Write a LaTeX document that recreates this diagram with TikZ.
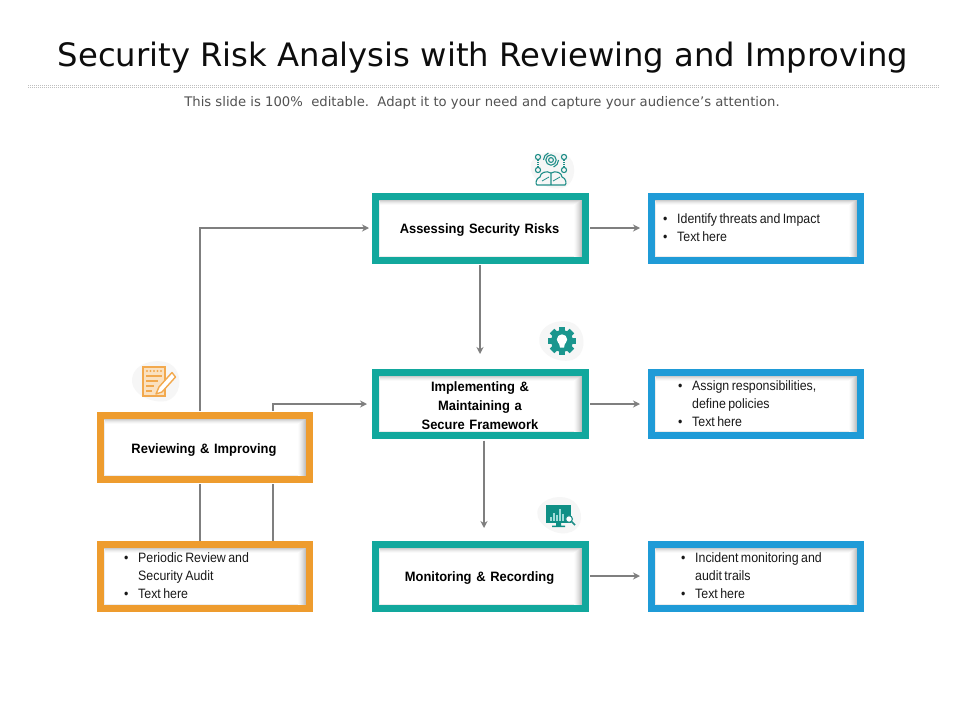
\documentclass[tikz,border=0pt]{standalone}
\usepackage{fontspec}
\setmainfont{Liberation Sans}
\newfontfamily\headfont{DejaVu Sans}
\newfontfamily\bodyfont[FakeStretch=0.91,WordSpace=0.7]{Liberation Sans}
\newfontfamily\labelfont[FakeStretch=0.95,WordSpace=1.3,BoldFont={Liberation Sans Bold}]{Liberation Sans}
\usetikzlibrary{arrows.meta,calc}
\definecolor{teal1}{HTML}{12A89D}
\definecolor{blue1}{HTML}{1F9BD7}
\definecolor{orange1}{HTML}{EE9C2E}
\definecolor{conn}{HTML}{7F7F7F}
\definecolor{icont}{HTML}{1F8E88}
\definecolor{icono}{HTML}{F2A94E}
\definecolor{blob}{HTML}{F6F6F6}
\newcommand{\innerglow}[1]{%
  % top and right bands, fading into the white face
  \foreach \k/\g in {0/20,1/14,2/9,3/5,4/2}{
    \fill[black!\g] ($(#1.north west)+(7,7+\k)$) rectangle ($(#1.north east)+(-7,8+\k)$);
  }
  \foreach \k/\g in {0/24,1/20,2/16,3/12,4/9,5/6,6/3,7/1}{
    \fill[black!\g] ($(#1.north east)+(-8-\k,7+\k*0.6)$) rectangle ($(#1.south east)+(-7-\k,-7)$);
  }
  \fill[black!7] ($(#1.north west)+(7,8)$) rectangle ($(#1.south west)+(8,-7)$);
  \fill[black!7] ($(#1.south west)+(7,-8)$) rectangle ($(#1.south east)+(-15,-7)$);
}
\newcommand{\bl}[1]{\makebox[14pt][l]{\textbullet}#1}
\newcommand{\ct}[1]{\hspace*{14pt}#1}
\tikzset{
  x=1pt,y=-1pt,
  box/.style={draw=#1,line width=7pt,fill=white,minimum width=209pt,minimum height=64pt,inner sep=0pt},
  title/.style={font=\headfont\fontsize{32.25}{36}\selectfont,text=black!95},
  sub/.style={font=\headfont\fontsize{13.2}{15}\selectfont,text=black!68},
  lab/.style={font=\labelfont\bfseries\fontsize{13.6}{19}\selectfont,align=center,text=black},
  bod/.style={font=\bodyfont\fontsize{13.6}{18}\selectfont,align=left,anchor=west,inner sep=0pt,text=black!90},
  link/.style={draw=conn,line width=1.7pt},
  arr/.style={link,-{Stealth[length=7pt,width=7pt]}},
  ticon/.style={draw=icont,line width=1.1pt,fill=none},
}
\begin{document}
\begin{tikzpicture}
\useasboundingbox (0,0) rectangle (960,720);
\fill[white] (0,0) rectangle (960,720);
\node[title] (ttl) at (483,57.5) {Security Risk Analysis with Reviewing and Improving};
\coordinate (ruleL) at (28,85.5); \coordinate (ruleR) at (939,85.5);
\draw[black!25,line width=.9pt,dash pattern=on 1pt off 1pt] (ruleL) -- (ruleR);
\draw[black!25,line width=.9pt,dash pattern=on 1pt off 1pt] ($(ruleL)+(0,1.5)$) -- ($(ruleR)+(0,1.5)$);
\node[sub] (subt) at (482,102.5) {This slide is 100\%\ \ editable.\ \ Adapt it to your need and capture your audience’s attention.};

% boxes
\node[box=teal1,minimum width=210pt] (assess) at (480.5,228.5) {};
\node[box=teal1,minimum width=210pt,minimum height=63pt] (impl) at (480.5,404) {};
\node[box=teal1,minimum width=210pt] (mon) at (480.5,576.5) {};
\node[box=blue1] (b1) at (756,228.5) {};
\node[box=blue1,minimum height=63pt] (b2) at (756,404) {};
\node[box=blue1] (b3) at (756,576.5) {};
\node[box=orange1] (rev) at (205,447.5) {};
\node[box=orange1] (per) at (205,576.5) {};
\foreach \bx in {assess,impl,mon,b1,b2,b3,rev,per} {\innerglow{\bx}}

% labels
\node[lab] (tassess) at (479.5,230) {Assessing Security Risks};
\node[lab] (timpl) at (480,405.5) {Implementing \&\\Maintaining a\\Secure Framework};
\node[lab] (tmon) at (479.5,578) {Monitoring \& Recording};
\node[lab] (trev) at (204,450) {Reviewing \& Improving};
\node[bod] (t1) at (663,227.5) {\bl{Identify threats and Impact}\\\bl{Text here}};
\node[bod] (t2) at (678,403.5) {\bl{Assign responsibilities,}\\\ct{define policies}\\\bl{Text here}};
\node[bod] (t3) at (681,575.5) {\bl{Incident monitoring and}\\\ct{audit trails}\\\bl{Text here}};
\node[bod] (t4) at (124,575.5) {\bl{Periodic Review and}\\\ct{Security Audit}\\\bl{Text here}};

% connectors
\coordinate (ra) at (200,411); \coordinate (rb) at (273,411);
\coordinate (rc) at (200,484); \coordinate (rd) at (273,484);
\coordinate (pa) at (200,540.5); \coordinate (pb) at (273,540.5);
\coordinate (as) at (480,265); \coordinate (ae) at (480,354);
\coordinate (ib) at (484,440.5); \coordinate (ie) at (484,528);
\draw[arr] (ra) |- ($(assess.west)+(-3,-.5)$);
\draw[arr] (rb) |- ($(impl.west)+(-5,0)$);
\draw[link] (rc) -- (pa);
\draw[link] (rd) -- (pb);
\draw[arr] ($(assess.east)+(1,-.5)$) -- ($(b1.west)+(-8,-.5)$);
\draw[arr] ($(impl.east)+(1,0)$) -- ($(b2.west)+(-8,0)$);
\draw[arr] ($(mon.east)+(1,-.5)$) -- ($(b3.west)+(-8,-.5)$);
\draw[arr] (as) -- (ae);
\draw[arr] (ib) -- (ie);

% icon 1: brains and orbit
\fill[blob] (531,163) .. controls (536,151) and (562,149) .. (570,158) .. controls (578,167) and (574,186) .. (562,188) .. controls (548,191) and (528,180) .. (531,163) -- cycle;
\foreach \p in {(538,157),(564,157),(538,170),(564,170)} \draw[ticon] \p circle (2.6);
\draw[ticon,densely dotted] (538,160) -- (538,167) (564,160) -- (564,167);
\draw[ticon] (551,160) circle (5.2) (551,160) circle (2.4);
\draw[ticon] (543.5,160) arc (180:250:7.5) (558.5,160) arc (0:70:7.5);
\draw[ticon] (551,185) -- (551,173) .. controls (546,170) and (540,173) .. (540,177) .. controls (536,178) and (535,184) .. (537,185) -- (565,185) .. controls (567,184) and (566,178) .. (562,177) .. controls (562,173) and (556,170) .. (551,173);
\draw[ticon,line width=.8pt] (542,181) -- (549,177) (553,181) -- (560,177);

% icon 2: gear
\fill[blob] (540,335) .. controls (545,320) and (570,317) .. (578,327) .. controls (587,337) and (585,356) .. (572,360) .. controls (556,364) and (535,352) .. (540,335) -- cycle;
\foreach \a in {0,45,...,315} \fill[icont!70!teal1,rotate around={\a:(562,341)}] (558.8,327) rectangle (565.2,333);
\fill[icont!70!teal1] (562,341) circle (11);
\fill[white] (562,339.5) circle (5.2);
\fill[white] (558.8,342.5) -- (565.2,342.5) -- (564,347.5) -- (560,347.5) -- cycle;

% icon 3: monitor
\fill[blob] (539,507) .. controls (548,494) and (570,494) .. (577,505) .. controls (585,516) and (581,531) .. (567,533) .. controls (552,536) and (531,520) .. (539,507) -- cycle;
\fill[teal1!85!black] (546,505) rectangle (571,523);
\fill[teal1!85!black] (556,523) rectangle (561,526) (552,525.5) rectangle (565,527);
\foreach \x/\h in {550/4,553/8,556/6,559/12,562/7} \fill[white!60!teal1] (\x,521) rectangle ++(1.6,-\h);
\fill[white] (569,519) circle (3.4);
\draw[icont,line width=1.1pt] (569,519) circle (3.4);
\draw[icont,line width=1.6pt] (571.5,521.5) -- (575,525);

% icon 4: notes and pencil
\fill[blob] (133,375) .. controls (138,360) and (165,357) .. (174,367) .. controls (183,377) and (181,397) .. (166,401) .. controls (150,404) and (127,392) .. (133,375) -- cycle;
\fill[icono!35] (143,367) rectangle (165,396);
\draw[icono,line width=1.1pt] (143,367) rectangle (165,396);
\foreach \x in {147,150.5,154,157.5,161} \fill[icono] (\x,371) circle (1.2);
\draw[icono,line width=1.5pt] (146,376) -- (162,376) (146,381) -- (158,381) (146,386) -- (154,386) (146,391) -- (152,391);
\fill[white] (159,387) -- (156,394) -- (162,392) -- (175.5,377) -- (172,372.5) -- cycle;
\draw[icono,line width=1.4pt,line join=round] (159,387) -- (156,394) -- (162,392) -- (175.5,377) -- (172,372.5) -- cycle;
\end{tikzpicture}
\end{document}
